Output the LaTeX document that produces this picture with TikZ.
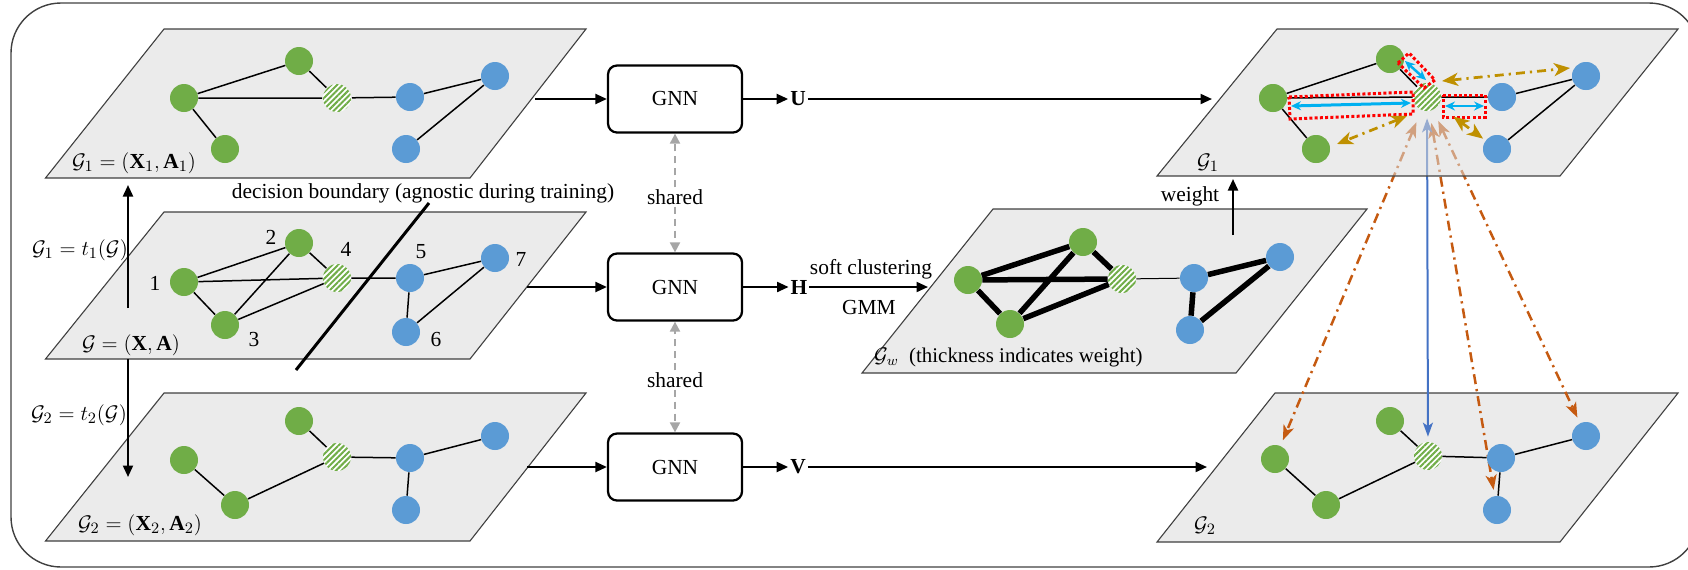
\documentclass[tikz,border=0pt]{standalone}
\usepackage{fontspec}
\setmainfont{Liberation Serif}
\usetikzlibrary{arrows.meta,patterns.meta,calc}

\definecolor{ngreen}{HTML}{70AD47}
\definecolor{nblue}{HTML}{5B9BD5}
\definecolor{planegray}{HTML}{EBEBEB}
\definecolor{veilgray}{HTML}{DBDBDB}
\definecolor{linkblue}{HTML}{00B0F0}
\definecolor{gold}{HTML}{BF9000}
\definecolor{rust}{HTML}{C55A11}
\definecolor{steel}{HTML}{4472C4}
\definecolor{sharegray}{HTML}{A6A6A6}
\definecolor{framegray}{HTML}{404040}

\pgfdeclarelayer{base}
\pgfdeclarelayer{cross}
\pgfsetlayers{base,cross,main}

\begin{document}
\begin{tikzpicture}[x=0.2mm,y=-0.2mm,
  font=\fontsize{12.2}{14}\selectfont,
  plane/.style={draw=black!75, line width=0.22mm, fill=planegray},
  veil/.style={draw=black!75, line width=0.22mm, fill=veilgray, fill opacity=0.55},
  gnode/.style={circle, fill=ngreen, minimum size=5.6mm, inner sep=0pt},
  bnode/.style={circle, fill=nblue, minimum size=5.6mm, inner sep=0pt},
  hnode/.style={circle, minimum size=5.6mm, inner sep=0pt,
    preaction={fill=white},
    pattern={Lines[angle=45,distance=0.8mm,line width=0.4mm]}, pattern color=ngreen},
  link/.style={line width=0.3mm},
  heavy/.style={line width=1.1mm},
  gnnbox/.style={draw, rounded corners=1.8mm, line width=0.45mm, fill=white,
    minimum width=26.8mm, minimum height=13.4mm},
  flow/.style={line width=0.42mm, -{Triangle[length=2.3mm,width=2mm]}},
  share/.style={sharegray, line width=0.4mm, dash pattern=on 1.4mm off 1mm,
    -{Triangle[length=2mm,width=2mm]}},
  cut/.style={line width=0.6mm},
  tag/.style={inner sep=1pt},
  redbox/.style={red, line width=0.6mm, dash pattern=on 0.6mm off 0.45mm},
  cyanlink/.style={linkblue, {Stealth[length=2mm,width=1.8mm]}-{Stealth[length=2mm,width=1.8mm]}},
  goldlink/.style={gold, line width=0.55mm, dash pattern=on 1.8mm off 1mm on 0.45mm off 1mm,
    {Stealth[length=3.2mm,width=2.6mm,inset=0.9mm]}-{Stealth[length=3.2mm,width=2.6mm,inset=0.9mm]}},
  rustlink/.style={rust, line width=0.5mm, dash pattern=on 2mm off 1mm on 0.45mm off 1mm,
    {Stealth[length=3mm,width=2.2mm,inset=0.8mm]}-{Stealth[length=3mm,width=2.2mm,inset=0.8mm]}},
  pairlink/.style={steel, line width=0.4mm,
    {Stealth[length=2.8mm,width=2mm,inset=0.7mm]}-{Stealth[length=2.8mm,width=2mm,inset=0.7mm]}}
]
\useasboundingbox (0,0) rectangle (1688,569);
\clip (0,0) rectangle (1688,569);

% outer frame
\draw[framegray, line width=0.28mm, rounded corners=10mm] (11,3) rectangle (1699,567);

% ---------------- left column: augmented views and the input graph ----------------
\draw[plane] (164,29) -- (586,29) -- (470,178) -- (45.5,178) -- cycle;
\draw[plane] (164,212) -- (586,212) -- (470,359) -- (45.5,359) -- cycle;
\draw[plane] (164,393) -- (586,393) -- (470,541) -- (45.5,541) -- cycle;

% view G1
\node[gnode] (ta) at (184,98) {};
\node[gnode] (tb) at (299,61) {};
\node[gnode] (tc) at (225,149) {};
\node[hnode] (td) at (337,98) {};
\node[bnode] (te) at (410,97) {};
\node[bnode] (tf) at (495,76) {};
\node[bnode] (tg) at (406,149) {};
\draw[link] (ta) -- (tb) (ta) -- (td) (ta) -- (tc) (tb) -- (td)
            (td) -- (te) (te) -- (tf) (tf) -- (tg);
\node at (134,163) {$\mathcal{G}_1=(\textbf{X}_1,\textbf{A}_1)$};

% input graph G
\node[gnode] (m1) at (184,282) {};
\node[gnode] (m2) at (299,243) {};
\node[gnode] (m3) at (225,325) {};
\node[hnode] (m4) at (337,278) {};
\node[bnode] (m5) at (410,278) {};
\node[bnode] (m7) at (495,258) {};
\node[bnode] (m6) at (406,332) {};
\draw[link] (m1) -- (m2) (m1) -- (m4) (m1) -- (m3) (m2) -- (m4) (m2) -- (m3)
            (m3) -- (m4) (m4) -- (m5) (m5) -- (m7) (m5) -- (m6) (m6) -- (m7);
\node at (155,283) {1};
\node at (271,237) {2};
\node at (254,339) {3};
\node at (346,249) {4};
\node at (421,252) {5};
\node at (436,339) {6};
\node at (521,259) {7};
\node at (131,345) {$\mathcal{G}=(\textbf{X},\textbf{A})$};

% decision boundary
\node (dbtext) at (423,193) {decision boundary (agnostic during training)};
\coordinate (dbtop) at (429,203);
\coordinate (dbbot) at (296,370);
\draw[cut] (dbtop) -- (dbbot);

% view G2
\node[gnode] (ba) at (184,460) {};
\node[gnode] (bb) at (299,421) {};
\node[gnode] (bc) at (235,505) {};
\node[hnode] (bd) at (337,457) {};
\node[bnode] (be) at (410,458) {};
\node[bnode] (bf) at (495,436) {};
\node[bnode] (bg) at (406,510) {};
\draw[link] (ba) -- (bc) (bc) -- (bd) (bb) -- (bd) (bd) -- (be) (be) -- (bf) (be) -- (bg);
\node at (140,525) {$\mathcal{G}_2=(\textbf{X}_2,\textbf{A}_2)$};

% augmentations
\coordinate (augup0) at (128,308);
\coordinate (augup1) at (128,185);
\coordinate (augdn0) at (128,359);
\coordinate (augdn1) at (128,477);
\draw[flow] (augup0) -- (augup1);
\draw[flow] (augdn0) -- (augdn1);
\node at (80,250) {$\mathcal{G}_1=t_1(\mathcal{G})$};
\node at (79,415) {$\mathcal{G}_2=t_2(\mathcal{G})$};

% ---------------- shared encoders ----------------
\node[gnnbox] (gnnU) at (675,99) {GNN};
\node[gnnbox] (gnnH) at (675,287) {GNN};
\node[gnnbox] (gnnV) at (675,467) {GNN};

\coordinate (out1) at (535,99);
\coordinate (out2) at (527,287);
\coordinate (out3) at (527,467);
\draw[flow] (out1) -- (gnnU);
\draw[flow] (out2) -- (gnnH);
\draw[flow] (out3) -- (gnnV);

\node[fill=white, inner sep=1pt] (sh1) at (675,197) {shared};
\node[fill=white, inner sep=1pt] (sh2) at (675,380) {shared};
\draw[share] (sh1) -- (gnnU);
\draw[share] (sh1) -- (gnnH);
\draw[share] (sh2) -- (gnnH);
\draw[share] (sh2) -- (gnnV);

\node[tag] (U) at (798,99) {\textbf{U}};
\node[tag] (H) at (799,287) {\textbf{H}};
\node[tag] (V) at (798,467) {\textbf{V}};
\draw[flow] (gnnU) -- (U);
\draw[flow] (gnnH) -- (H);
\draw[flow] (gnnV) -- (V);

\coordinate (uend) at (1212,99);
\coordinate (hend) at (928,287);
\coordinate (vend) at (1207,467);
\draw[flow] (U) -- (uend);
\draw[flow] (H) -- (hend);
\draw[flow] (V) -- (vend);
\node at (871,269) {soft clustering};
\node at (869,307) {GMM};

% ---------------- weighted graph ----------------
\draw[plane] (993,209) -- (1367,209) -- (1236,373) -- (862,373) -- cycle;
\node[gnode] (wa) at (968,280) {};
\node[gnode] (wb) at (1083,242) {};
\node[gnode] (wc) at (1010,324) {};
\node[hnode] (wd) at (1122,279) {};
\node[bnode] (we) at (1194,278) {};
\node[bnode] (wf) at (1280,257) {};
\node[bnode] (wg) at (1190,330) {};
\draw[heavy] (wa) -- (wb) (wa) -- (wd) (wa) -- (wc) (wb) -- (wc) (wb) -- (wd) (wc) -- (wd)
             (we) -- (wf) (we) -- (wg) (wf) -- (wg);
\draw[line width=0.2mm] (wd) -- (we);
\node[anchor=west, font=\fontsize{11.9}{13.5}\selectfont] at (868,357)
  {$\mathcal{G}_w$\ \ (thickness indicates weight)};

\coordinate (wt0) at (1233,235);
\coordinate (wt1) at (1233,179);
\draw[flow] (wt0) -- (wt1);
\node at (1190,196) {weight};

% ---------------- view G2 on the right ----------------
\begin{pgfonlayer}{base}
\draw[plane] (1275,393) -- (1678,393) -- (1560,542) -- (1157,542) -- cycle;
\end{pgfonlayer}
\node[gnode] (sa) at (1275,459) {};
\node[gnode] (sb) at (1390,421) {};
\node[gnode] (sc) at (1326,505) {};
\node[hnode] (sd) at (1428,456) {};
\node[bnode] (se) at (1501,458) {};
\node[bnode] (sf) at (1586,436) {};
\node[bnode] (sg) at (1497,510) {};
\draw[link] (sa) -- (sc) (sc) -- (sd) (sb) -- (sd) (sd) -- (se) (se) -- (sf) (se) -- (sg);
\node at (1205,526) {$\mathcal{G}_2$};

% ---------------- view G1 on the right ----------------
% node positions are fixed first so that the links below can refer to them
\node[gnode] (ra) at (1273,98) {};
\node[gnode] (rb) at (1390,59) {};
\node[gnode] (rc) at (1316,149) {};
\node[hnode] (rd) at (1427,97) {};
\node[bnode] (re) at (1502,97) {};
\node[bnode] (rf) at (1586,76) {};
\node[bnode] (rg) at (1497,149) {};

% links between the two views, seen through the upper plane
\begin{pgfonlayer}{cross}
\draw[rustlink, shorten <=2.6mm, shorten >=1.2mm] (rd) -- (sa);
\draw[rustlink, shorten <=2.4mm, shorten >=1.2mm] (rd) -- (sg);
\draw[rustlink, shorten <=2.4mm, shorten >=1.2mm] (rd) -- (sf);
\draw[pairlink, shorten <=1.4mm, shorten >=1mm] (rd) -- (sd);
\end{pgfonlayer}
\draw[veil] (1277,29) -- (1678,29) -- (1560,176) -- (1157,176) -- cycle;
\node at (1208,163) {$\mathcal{G}_1$};

\draw[link] (ra) -- (rb) (ra) -- (rd) (ra) -- (rc) (rb) -- (rd)
            (rd) -- (re) (re) -- (rf) (rf) -- (rg);
% nodes again, above the plane
\node[gnode] at (ra) {};
\node[gnode] at (rb) {};
\node[gnode] at (rc) {};
\node[hnode] at (rd) {};
\node[bnode] at (re) {};
\node[bnode] at (rf) {};
\node[bnode] at (rg) {};

% positive pairs inside the view
\draw[redbox] (1289,97) -- (1413,92) -- (1413,114) -- (1290,119) -- cycle;
\draw[redbox] (1398,63) -- (1409,53) -- (1435,80) -- (1424,88) -- cycle;
\draw[redbox] (1443,95) -- (1485,95) -- (1485,117) -- (1443,117) -- cycle;
\coordinate (cyA0) at (1291,106);
\coordinate (cyA1) at (1411,103);
\coordinate (cyB0) at (1405,61);
\coordinate (cyB1) at (1426,80);
\coordinate (cyE0) at (1445,106);
\coordinate (cyE1) at (1484,106);
\draw[cyanlink, line width=0.6mm] (cyA0) -- (cyA1);
\draw[cyanlink, line width=0.5mm] (cyB0) -- (cyB1);
\draw[cyanlink, line width=0.25mm] (cyE0) -- (cyE1);

% negative pairs inside the view
\coordinate (gdF) at (1442,81);
\coordinate (gF) at (1570,68);
\coordinate (gdC) at (1407,116);
\coordinate (gC) at (1337,144);
\draw[goldlink] (gdF) -- (gF);
\draw[goldlink] (gdC) -- (gC);
\draw[goldlink, shorten <=3.7mm, shorten >=0.6mm] (rd) -- (rg);

\end{tikzpicture}
\end{document}
